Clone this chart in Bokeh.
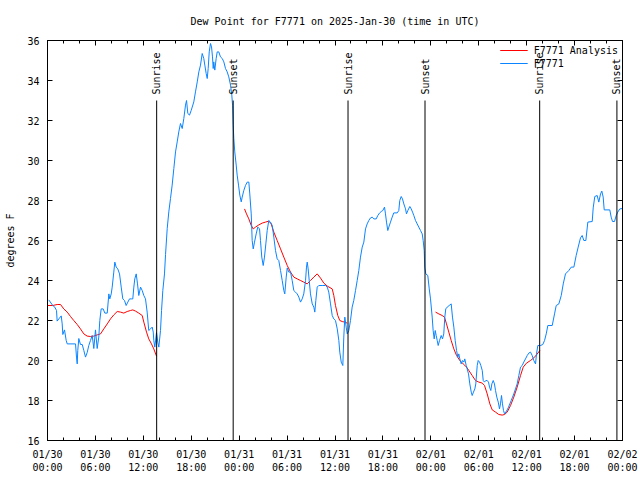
import numpy as np
from bokeh.plotting import figure
from bokeh.models import FixedTicker, LinearAxis, Range1d, CustomJSTickFormatter
from bokeh.embed import file_html
from bokeh.resources import INLINE
from bokeh.core.properties import value

FONT = "DejaVu Sans Mono"

# ---- data (time = hours since 2025-01-30 00:00 UTC, value = dew point in F) ----
obs_hours = [0.16, 0.66, 0.91, 1.13, 1.21, 1.42, 1.72, 1.84, 1.92, 2.13, 2.34, 2.47, 3.51, 3.63, 3.72,
             3.79, 3.92, 4.13, 4.35, 4.55, 4.76, 4.97, 5.17, 5.38, 5.60, 5.80, 6.01, 6.22, 6.42, 6.55,
             6.72, 6.97, 7.18, 7.48, 7.68, 7.80, 7.98, 8.10, 8.30, 8.43, 8.60, 8.80, 9.02, 9.23, 9.43,
             9.64, 9.85, 10.06, 10.27, 10.48, 10.68, 10.81, 10.93, 11.11, 11.27, 11.43, 11.65, 11.86,
             12.06, 12.27, 12.48, 12.68, 12.90, 13.11, 13.24, 13.31, 13.44, 13.65, 13.81, 13.94, 14.15,
             14.28, 14.44, 14.65, 14.78, 14.99, 15.19, 15.40, 15.61, 15.82, 16.03, 16.24, 16.44, 16.65,
             16.87, 17.07, 17.28, 17.41, 17.57, 17.78, 17.99, 18.32, 18.53, 18.75, 18.95, 19.16, 19.37,
             19.57, 19.70, 19.87, 20.00, 20.12, 20.25, 20.41, 20.54, 20.66, 20.75, 20.82, 20.95, 21.12,
             21.25, 21.45, 21.66, 21.88, 22.08, 22.29, 22.50, 22.70, 22.92, 23.08, 23.17, 23.25, 23.33,
             23.45, 23.63, 23.75, 23.92, 24.08, 24.26, 24.38, 24.58, 24.79, 25.01, 25.21, 25.33, 25.51,
             25.63, 25.76, 25.92, 26.13, 26.33, 26.55, 26.67, 26.83, 27.01, 27.17, 27.34, 27.51, 27.71,
             27.92, 28.14, 28.34, 28.55, 28.76, 28.96, 29.18, 29.39, 29.59, 29.71, 29.89, 30.02, 30.22,
             30.43, 30.64, 30.84, 31.05, 31.27, 31.47, 31.68, 31.89, 32.09, 32.31, 32.43, 32.52, 32.64,
             32.77, 32.93, 33.15, 33.35, 33.47, 33.60, 33.77, 33.97, 34.40, 34.81, 35.03, 35.22, 35.44,
             35.65, 35.85, 36.06, 36.28, 36.48, 36.60, 36.78, 36.98, 37.10, 37.23, 37.40, 37.53, 37.73,
             37.94, 38.15, 38.35, 38.57, 38.78, 38.98, 39.19, 39.41, 39.61, 39.82, 40.03, 40.23, 40.45,
             40.66, 40.86, 41.16, 41.36, 41.57, 41.79, 41.99, 42.20, 42.32, 42.45, 42.61, 42.74, 42.95,
             43.16, 43.36, 43.79, 43.99, 44.11, 44.29, 44.45, 44.62, 44.83, 44.95, 45.12, 45.37, 45.54,
             45.71, 45.87, 46.08, 46.29, 46.49, 46.71, 46.92, 47.04, 47.17, 47.24, 47.37, 47.62, 47.80,
             47.96, 48.17, 48.29, 48.42, 48.55, 48.67, 48.80, 48.92, 49.09, 49.30, 49.46, 49.62, 49.75,
             49.87, 50.05, 50.30, 50.55, 50.71, 50.88, 51.05, 51.22, 51.38, 51.50, 51.63, 51.80, 51.97,
             52.13, 52.25, 52.43, 52.55, 52.72, 52.88, 53.06, 53.18, 53.34, 53.51, 53.63, 53.81, 53.93,
             54.10, 54.26, 54.44, 54.56, 54.72, 54.88, 55.06, 55.22, 55.35, 55.51, 55.64, 55.81, 55.97,
             56.10, 56.26, 56.44, 56.60, 56.72, 56.85, 56.97, 57.10, 57.23, 57.39, 57.56, 57.73, 57.89,
             58.06, 58.23, 58.39, 58.60, 58.81, 59.02, 59.23, 59.44, 59.64, 59.85, 60.07, 60.27, 60.48,
             60.69, 60.89, 61.11, 61.23, 61.40, 61.73, 62.02, 62.24, 62.45, 62.65, 63.20, 63.49, 63.70,
             64.03, 64.33, 64.58, 64.86, 65.28, 65.58, 65.91, 66.20, 66.45, 66.74, 66.95, 67.16, 67.41,
             67.66, 68.21, 68.33, 68.53, 68.83, 69.03, 69.25, 69.41, 69.58, 69.71, 70.41, 70.58, 70.75,
             71.00, 71.21, 71.41, 71.66, 72.0]
obs_values = [23.03, 22.75, 22.67, 22.5, 21.97, 22.08, 22.23, 21.83, 21.3, 21.53, 21.0, 20.83, 20.83, 20.17, 19.83,
              20.5, 21.1, 20.8, 20.8, 20.5, 20.17, 20.4, 20.75, 21.0, 21.25, 20.6, 21.53, 20.6, 21.17, 22.0,
              22.58, 22.58, 22.37, 22.37, 23.33, 23.08, 23.33, 23.67, 24.42, 24.92, 24.67, 24.58, 24.33, 23.67, 23.08,
              23.0, 22.75, 22.92, 23.08, 23.08, 23.08, 23.67, 24.08, 24.33, 23.83, 23.25, 23.67, 23.5,
              23.25, 23.08, 22.42, 21.5, 21.58, 21.67, 21.42, 21.0, 20.67, 21.4, 20.92, 20.67, 21.5,
              22.5, 23.5, 24.33, 25.3, 26.6, 27.43, 28.1, 28.77, 29.6, 30.43, 30.93, 31.43, 31.85,
              31.6, 32.1, 32.77, 33.0, 32.35, 32.27, 32.5, 32.93, 33.43, 33.93, 34.43, 34.77, 35.35,
              35.1, 34.77, 34.35, 34.1, 34.6, 35.43, 35.85, 35.68, 35.18, 34.6, 34.93, 34.52, 35.1,
              35.43, 35.43, 35.18, 35.1, 34.93, 34.6, 34.43, 34.18, 33.77, 33.27, 32.77, 31.77, 31.1,
              30.43, 29.77, 29.27, 28.77, 28.27, 27.93, 28.17, 28.5, 28.75, 28.92, 28.92, 28.33, 27.33,
              26.0, 25.58, 25.92, 26.33, 26.67, 26.58, 26.0, 25.17, 24.75, 25.17, 25.83, 26.5, 27.0,
              26.92, 26.75, 26.17, 25.5, 25.08, 25.0, 24.5, 24.0, 23.5, 23.33, 24.17, 24.63, 24.42,
              24.42, 24.0, 23.5, 23.42, 23.33, 23.17, 22.92, 23.08, 23.33, 24.0, 24.67, 24.92, 24.58,
              24.0, 23.33, 22.83, 22.67, 22.42, 23.0, 23.67, 23.75, 23.75, 23.75, 23.67, 23.42, 22.83,
              22.25, 22.08, 22.0, 21.58, 21.0, 20.42, 19.92, 19.75, 21.17, 22.17, 21.67, 21.33, 21.5,
              22.0, 22.67, 23.0, 23.5, 24.0, 24.5, 25.17, 25.67, 25.92, 26.58, 26.83, 27.0, 27.13,
              27.17, 27.08, 27.08, 27.25, 27.37, 27.45, 27.5, 27.67, 27.33, 26.92, 26.5, 26.67, 26.92,
              27.17, 27.38, 27.38, 27.5, 28.0, 28.2, 28.08, 27.83, 27.58, 27.33, 27.5, 27.7, 27.58,
              27.42, 27.25, 27.0, 26.83, 26.67, 26.5, 26.33, 26.0, 25.5, 24.67, 24.33, 24.25, 23.58,
              23.08, 22.17, 21.5, 21.08, 21.5, 21.25, 21.0, 20.75, 21.0, 21.25, 21.08, 21.33, 22.17,
              22.58, 22.67, 22.75, 22.83, 22.17, 21.67, 21.0, 20.5, 20.17, 20.33, 20.08, 19.83, 20.0,
              19.92, 20.08, 19.75, 19.58, 19.33, 18.83, 18.42, 18.25, 18.42, 18.58, 18.83, 19.75, 20.0,
              19.92, 19.75, 19.5, 19.0, 18.92, 19.0, 19.0, 18.92, 18.67, 18.5, 18.83, 19.0, 18.83,
              18.5, 18.17, 17.92, 17.58, 17.83, 18.25, 17.83, 17.5, 17.33, 17.42, 17.53, 17.67, 17.83,
              18.0, 18.17, 18.33, 18.58, 18.83, 19.25, 19.67, 19.75, 19.92, 20.08, 20.25, 20.37, 20.42,
              20.25, 20.0, 19.83, 20.33, 20.75, 20.75, 20.8, 21.0, 21.33, 21.75, 21.75, 22.33, 22.75,
              22.83, 23.25, 23.83, 24.33, 24.5, 24.67, 24.67, 25.25, 25.67, 26.13, 26.25, 26.0, 26.0,
              26.92, 26.95, 27.63, 28.2, 28.25, 27.92, 28.33, 28.47, 28.17, 27.53, 27.53, 27.17, 26.95,
              26.95, 27.25, 27.42, 27.58, 27.6]

ana1_hours = [0.0, 0.66, 1.21, 1.63, 2.04, 2.47, 2.88, 3.29, 3.72, 4.13, 4.55, 4.97, 5.38, 5.80, 6.22, 6.64,
              7.05, 7.48, 7.89, 8.30, 8.73, 9.14, 9.55, 9.98, 10.39, 10.68, 11.02, 11.43, 11.86, 12.06,
              12.40, 12.68, 13.02, 13.31, 13.65]
ana1_values = [22.75, 22.75, 22.8, 22.8, 22.58, 22.42, 22.2, 22.0, 21.8, 21.58, 21.33, 21.22, 21.2, 21.22, 21.28,
               21.33, 21.58, 21.83, 22.08, 22.28, 22.45, 22.42, 22.37, 22.45, 22.5, 22.53, 22.47, 22.37, 22.25,
               21.92, 21.42, 21.08, 20.83, 20.58, 20.22]
ana2_hours = [24.67, 24.92, 25.21, 25.51, 25.76, 26.05, 26.46, 26.88, 27.30, 27.71, 28.01, 28.34, 28.76, 29.18,
              29.59, 30.02, 30.43, 30.84, 31.27, 31.68, 32.09, 32.52, 32.93, 33.35, 33.77, 34.19, 34.60, 35.03,
              35.65, 35.85, 36.06, 36.35, 36.60, 36.90, 37.19, 37.53]
ana2_values = [27.58, 27.33, 27.08, 26.75, 26.58, 26.67, 26.78, 26.87, 26.92, 26.97, 26.83, 26.42, 26.0, 25.58,
               25.17, 24.75, 24.42, 24.17, 24.08, 24.0, 23.92, 23.83, 24.0, 24.17, 24.33, 24.12, 23.87, 23.72,
               23.58, 23.25, 22.75, 22.25, 22.0, 21.95, 21.92, 21.87]
ana3_hours = [48.59, 49.00, 49.42, 49.71, 49.96, 50.25, 50.55, 50.88, 51.22, 51.63, 52.05, 52.47, 52.76, 53.18,
              53.59, 54.01, 54.44, 54.72, 55.06, 55.39, 55.69, 56.10, 56.51, 56.94, 57.23, 57.56, 57.98, 58.39,
              58.81, 59.23, 59.57, 59.98, 60.48, 60.89, 61.23, 61.65]
ana3_values = [22.42, 22.33, 22.25, 22.17, 21.83, 21.42, 21.0, 20.58, 20.25, 20.0, 19.83, 19.67, 19.5, 19.25,
               19.0, 18.92, 18.87, 18.75, 18.33, 17.83, 17.53, 17.42, 17.3, 17.27, 17.3, 17.42, 17.75, 18.17,
               18.67, 19.25, 19.67, 19.87, 20.0, 20.13, 20.28, 20.5]

event_hours = [13.67, 23.25, 37.63, 47.27, 61.63, 71.3]
event_labels = ["Sunrise", "Sunset", "Sunrise", "Sunset", "Sunrise", "Sunset"]
event_line_top = 33.0

tick_hours = [0, 6, 12, 18, 24, 30, 36, 42, 48, 54, 60, 66, 72]
tick_dates = ["01/30", "01/30", "01/30", "01/30", "01/31", "01/31", "01/31", "01/31",
              "02/01", "02/01", "02/01", "02/01", "02/02"]
tick_times = ["00:00", "06:00", "12:00", "18:00", "00:00", "06:00", "12:00", "18:00",
              "00:00", "06:00", "12:00", "18:00", "00:00"]
minor_tick_hours = list(range(0, 73, 2))
y_ticks = [16, 18, 20, 22, 24, 26, 28, 30, 32, 34, 36]

# ---- figure ----
p = figure(width=640, height=480, output_backend="svg", toolbar_location=None,
           x_range=Range1d(0, 72), y_range=Range1d(16, 36),
           min_border_left=47, min_border_right=18, min_border_top=40, min_border_bottom=40,
           title="Dew Point for F7771 on 2025-Jan-30 (time in UTC)")
p.title.align = "center"
p.title.vertical_align = "bottom"
p.title.text_font = FONT
p.title.text_font_size = "10px"
p.title.text_font_style = "normal"
p.title.text_color = "black"
p.title.standoff = 27
p.xgrid.visible = False
p.ygrid.visible = False
p.outline_line_color = "black"
p.outline_line_width = 1
p.background_fill_color = "white"
p.border_fill_color = "white"

xt = FixedTicker(ticks=tick_hours, minor_ticks=minor_tick_hours)
yt = FixedTicker(ticks=y_ticks, minor_ticks=[])

for ax in p.xaxis:
    ax.ticker = xt
    ax.major_label_overrides = {h: d + "\n" + t for h, d, t in zip(tick_hours, tick_dates, tick_times)}
for ax in p.yaxis:
    ax.ticker = yt
    ax.axis_label = "degrees F"
    ax.axis_label_text_font = FONT
    ax.axis_label_text_font_size = "10px"
    ax.axis_label_text_font_style = "normal"
    ax.axis_label_text_color = "black"
    ax.axis_label_standoff = 8

def style_axis(ax):
    ax.axis_line_color = "black"
    ax.major_tick_line_color = "black"
    ax.minor_tick_line_color = "black"
    ax.major_tick_in = 5
    ax.major_tick_out = 0
    ax.minor_tick_in = 3
    ax.minor_tick_out = 0
    ax.major_label_text_font = FONT
    ax.major_label_text_font_size = "10px"
    ax.major_label_text_color = "black"

for ax in list(p.xaxis) + list(p.yaxis):
    style_axis(ax)
p.xaxis.major_label_standoff = 8
p.yaxis.major_label_standoff = 8

blank = CustomJSTickFormatter(code="return ''")
top = LinearAxis(ticker=xt, formatter=blank)
right = LinearAxis(ticker=yt, formatter=blank)
for ax in (top, right):
    style_axis(ax)
    ax.major_label_standoff = 0
    ax.major_label_text_font_size = "1px"
p.add_layout(top, "above")
p.add_layout(right, "right")

# ---- series ----
p.multi_line(xs=[ana1_hours, ana2_hours, ana3_hours], ys=[ana1_values, ana2_values, ana3_values],
             line_color="#ff0000", line_width=1, legend_label="F7771 Analysis")
p.line(obs_hours, obs_values, line_color="#0a84ff", line_width=1, legend_label="F7771")

# sunrise / sunset markers
p.segment(x0=event_hours, y0=[16] * len(event_hours), x1=event_hours,
          y1=[event_line_top] * len(event_hours), line_color="black", line_width=1)
p.text(x=event_hours, y=[event_line_top] * len(event_hours), text=event_labels, angle=np.pi / 2,
       text_align="left", text_baseline="middle", y_offset=-6,
       text_font=value(FONT), text_font_size="10px", text_color="black")

lg = p.legend[0]
lg.location = "top_right"
lg.border_line_color = None
lg.background_fill_alpha = 0
lg.label_text_font = FONT
lg.label_text_font_size = "10px"
lg.label_text_color = "black"
lg.glyph_width = 28
lg.glyph_height = 12
lg.label_height = 12
lg.spacing = 1
lg.padding = 4
lg.margin = 4
lg.label_standoff = 6

open("out.html", "w").write(file_html(p, INLINE))
